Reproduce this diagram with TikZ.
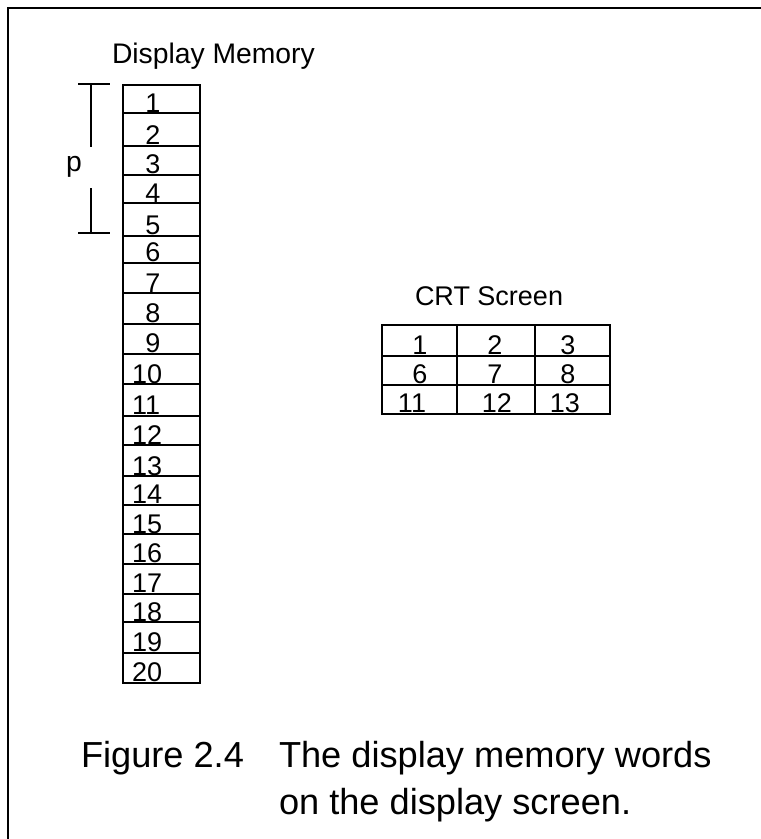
\documentclass[tikz,border=0pt]{standalone}
\usepackage{fontspec}
\setmainfont{Liberation Sans}
\begin{document}
\begin{tikzpicture}[x=1pt,y=-1pt,
  txt/.style={inner sep=0pt,outer sep=0pt},
  title/.style={txt,font=\fontsize{28.3}{28}\selectfont},
  digit/.style={txt,font=\fontsize{27}{27}\selectfont},
  capt/.style={txt,font=\fontsize{36.2}{36}\selectfont},
  cell/.style={line width=2.2pt},
  frame/.style={line width=2.6pt}]
\useasboundingbox (0,0) rectangle (761,839);
% frame (top and left edges)
\draw[frame] (8,839) -- (8,8) -- (761,8);
% title
\node[title,anchor=base west] (dmtitle) at (112,63) {Display Memory};
% memory column
\draw[cell] (123,85) rectangle (200,683);
\foreach \y in {113,146,175,203,236,263,293,324,354,384,416,445,476,505,534,564,594,622,653}
  \draw[cell] (123,\y) -- (200,\y);
\foreach \n/\b in {1/112,2/144,3/173,4/202,5/234,6/261,7/292,8/322,9/352}
  \node[digit,anchor=base] (m\n) at (153,\b) {\n};
\foreach \n/\b in {10/383,11/414,12/444,13/475,14/503,15/533,16/562,17/592,18/621,19/651,20/681}
  \node[digit,anchor=base west] (m\n) at (132,\b) {\n};
% p bracket
\coordinate (pt1) at (78,84);
\coordinate (pt2) at (110,84);
\coordinate (pv1) at (91,84);
\coordinate (pv2) at (91,147);
\coordinate (pv3) at (91,188);
\coordinate (pv4) at (91,233);
\coordinate (pb1) at (78,233);
\coordinate (pb2) at (110,233);
\draw[cell] (pt1) -- (pt2);
\draw[cell] (pv1) -- (pv2);
\draw[cell] (pv3) -- (pv4);
\draw[cell] (pb1) -- (pb2);
\node[title,anchor=base] (p) at (74,171) {p};
% CRT screen
\node[title,anchor=base west,font=\fontsize{27}{27}\selectfont] (crttitle) at (415,305) {CRT Screen};
\draw[cell] (382,325) rectangle (610,414);
\draw[cell] (382,356) -- (610,356);
\draw[cell] (382,385) -- (610,385);
\draw[cell] (457,325) -- (457,414);
\draw[cell] (535,325) -- (535,414);
\node[digit,anchor=base] (c1) at (420,354) {1};
\node[digit,anchor=base] (c2) at (495,354) {2};
\node[digit,anchor=base] (c3) at (568,354) {3};
\node[digit,anchor=base] (c6) at (420,383) {6};
\node[digit,anchor=base] (c7) at (495,383) {7};
\node[digit,anchor=base] (c8) at (568,383) {8};
\node[digit,anchor=base] (c11) at (412,412) {11};
\node[digit,anchor=base] (c12) at (497,412) {12};
\node[digit,anchor=base] (c13) at (565,412) {13};
% caption
\node[capt,anchor=base west] (fig) at (81,767) {Figure 2.4};
\node[capt,anchor=base west] (cap1) at (279,767) {The display memory words};
\node[capt,anchor=base west] (cap2) at (279,814) {on the display screen.};
\end{tikzpicture}
\end{document}
